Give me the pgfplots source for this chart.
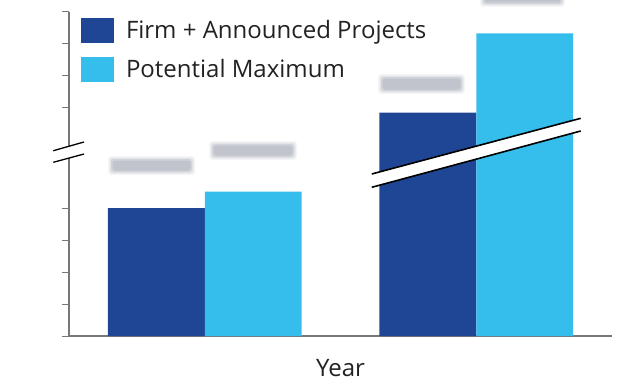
\documentclass[border=0pt]{standalone}
\usepackage{fontspec}
\setmainfont{Open Sans}
\usepackage{pgfplots}
\pgfplotsset{compat=1.18}
\definecolor{darkblue}{RGB}{31,70,148}
\definecolor{lightblue}{RGB}{53,190,236}
\definecolor{axisgray}{RGB}{120,120,120}
\definecolor{boxgray}{RGB}{186,190,198}
\definecolor{txt}{RGB}{34,34,34}
\newcommand\blurbox[4]{%
  \foreach \d/\o in {-2/0.15,-0.5/0.3,1/0.45,2.5/0.7}{%
    \fill[boxgray, opacity=\o, rounded corners=3bp] (#1+\d,#2+\d) rectangle (#3-\d,#4-\d);}}
\begin{document}
\begin{tikzpicture}[x=1bp,y=1bp]
\useasboundingbox (0,0) rectangle (633,382);
\begin{axis}[
  at={(69bp,46bp)}, anchor=south west,
  scale only axis, width=543bp, height=324bp,
  xmin=-0.5, xmax=1.5, ymin=0, ymax=10.125,
  ybar=0pt, bar width=0.357,
  axis x line=bottom, axis y line=left,
  axis line style={-, draw=axisgray, line width=1.2bp},
  xtick=\empty,
  ytick={0,1,2,3,4,7.125,8.125,9.125,10.125},
  yticklabels={},
  tick align=outside, major tick length=7.5bp,
  y tick style={draw=axisgray, line width=1bp},
  xlabel={Year},
  xlabel style={at={(axis description cs:0.5,0)}, anchor=base, yshift=-40.7bp,
    font=\fontsize{24bp}{28bp}\selectfont, text=txt},
  legend style={draw=none, fill=none, at={(0.0221,0.9815)}, anchor=north west,
    inner sep=0pt, outer sep=0pt, row sep=13bp,
    font=\fontsize{24bp}{28bp}\selectfont, text=txt,
    nodes={inner sep=0pt, text height=17bp, text depth=5bp},
    /tikz/every odd column/.style={column sep=12bp}},
  legend cell align=left,
  mylegend/.style={legend image code/.code={\fill[##1] (0bp,-10bp) rectangle (33bp,15bp);}},
  clip=false,
]
\addplot[fill=darkblue, draw=none, bar shift=-0.1785, mylegend] coordinates {(0,4) (1,6.98)};
\addplot[fill=lightblue, draw=none, bar shift=0.1785, mylegend] coordinates {(0,4.51) (1,9.46)};
\legend{Firm + Announced Projects, Potential Maximum}
\end{axis}
% y-axis break
\fill[white] (53.3,231.3) -- (84,240) -- (84,228) -- (53.3,219.7) -- cycle;
\draw[black, line width=1.3bp] (53.3,231.3) -- (84,240);
\draw[black, line width=1.3bp] (53.3,219.7) -- (84,228);
% bar break
\fill[white] (371.7,208) -- (580.7,263.7) -- (580.7,251) -- (371.7,194.7) -- cycle;
\draw[black, line width=1.6bp] (371.7,208) -- (580.7,263.7);
\draw[black, line width=1.6bp] (371.7,194.7) -- (580.7,251);
% redacted value labels
\blurbox{110}{209}{193}{224}
\blurbox{211}{224}{295}{239}
\blurbox{380}{290}{463}{306}
\blurbox{482}{377}{563}{392}
\end{tikzpicture}
\end{document}
